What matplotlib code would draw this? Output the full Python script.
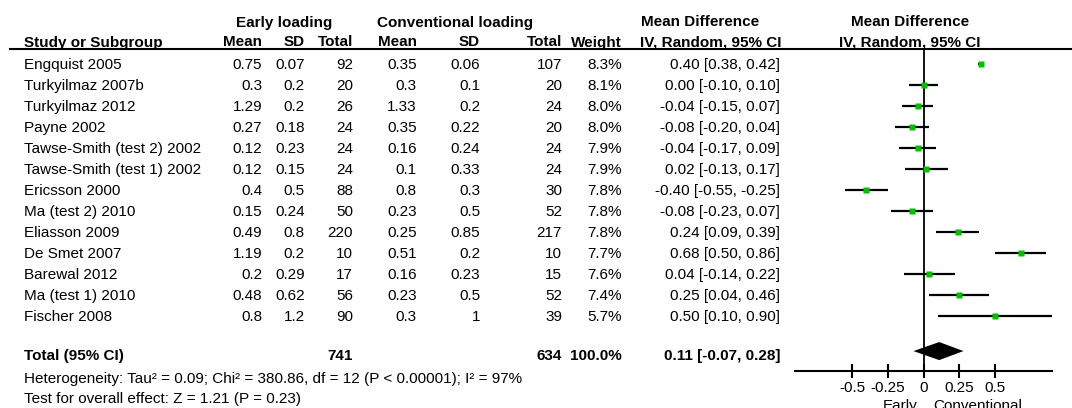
import numpy as np
import matplotlib
matplotlib.use('Agg')
import matplotlib.pyplot as plt

plt.rcParams['font.family'] = ['Liberation Sans', 'DejaVu Sans']
plt.rcParams['font.size'] = 11

# study data
studies = ['Engquist 2005', 'Turkyilmaz 2007b', 'Turkyilmaz 2012', 'Payne 2002',
           'Tawse-Smith (test 2) 2002', 'Tawse-Smith (test 1) 2002', 'Ericsson 2000',
           'Ma (test 2) 2010', 'Eliasson 2009', 'De Smet 2007', 'Barewal 2012',
           'Ma (test 1) 2010', 'Fischer 2008']
early_mean = [0.75, 0.3, 1.29, 0.27, 0.12, 0.12, 0.4, 0.15, 0.49, 1.19, 0.2, 0.48, 0.8]
early_sd = [0.07, 0.2, 0.2, 0.18, 0.23, 0.15, 0.5, 0.24, 0.8, 0.2, 0.29, 0.62, 1.2]
early_n = [92, 20, 26, 24, 24, 24, 88, 50, 220, 10, 17, 56, 90]
conv_mean = [0.35, 0.3, 1.33, 0.35, 0.16, 0.1, 0.8, 0.23, 0.25, 0.51, 0.16, 0.23, 0.3]
conv_sd = [0.06, 0.1, 0.2, 0.22, 0.24, 0.33, 0.3, 0.5, 0.85, 0.2, 0.23, 0.5, 1]
conv_n = [107, 20, 24, 20, 24, 24, 30, 52, 217, 10, 15, 52, 39]
weight = [8.3, 8.1, 8.0, 8.0, 7.9, 7.9, 7.8, 7.8, 7.8, 7.7, 7.6, 7.4, 5.7]
md = [0.40, 0.00, -0.04, -0.08, -0.04, 0.02, -0.40, -0.08, 0.24, 0.68, 0.04, 0.25, 0.50]
ci_lo = [0.38, -0.10, -0.15, -0.20, -0.17, -0.13, -0.55, -0.23, 0.09, 0.50, -0.14, 0.04, 0.10]
ci_hi = [0.42, 0.10, 0.07, 0.04, 0.09, 0.17, -0.25, 0.07, 0.39, 0.86, 0.22, 0.46, 0.90]

total_early = 741
total_conv = 634
total_md, total_lo, total_hi = 0.11, -0.07, 0.28
heterogeneity = 'Heterogeneity: Tau² = 0.09; Chi² = 380.86, df = 12 (P < 0.00001); I² = 97%'
overall = 'Test for overall effect: Z = 1.21 (P = 0.23)'
ticks = [-0.5, -0.25, 0, 0.25, 0.5]
tick_labels = ['-0.5', '-0.25', '0', '0.25', '0.5']

W, H = 1072, 408
fig = plt.figure(figsize=(W / 100, H / 100), dpi=100)

# table area in pixel coordinates
ax0 = fig.add_axes([0, 0, 1, 1])
ax0.set_xlim(0, W)
ax0.set_ylim(H, 0)
ax0.axis('off')

def row_base(i):
    return 64 + 21 * i + 5

# headers
ax0.text(284, 26.5, 'Early loading', ha='center', weight='bold')
ax0.text(455, 26.5, 'Conventional loading', ha='center', weight='bold')
ax0.text(700, 26.5, 'Mean Difference', ha='center', weight='bold')
ax0.text(910, 26.5, 'Mean Difference', ha='center', weight='bold')
hdr = [(24, 'Study or Subgroup', 'left'), (262, 'Mean', 'right'), (305, 'SD', 'right'),
       (353, 'Total', 'right'), (417, 'Mean', 'right'), (480, 'SD', 'right'),
       (562, 'Total', 'right'), (622, 'Weight', 'right'),
       (711, 'IV, Random, 95% CI', 'center'), (910, 'IV, Random, 95% CI', 'center')]
for x, s, ha in hdr:
    ax0.text(x, 46.5, s, ha=ha, weight='bold')
ax0.plot([10, W], [49, 49], color='black', lw=1.5)

# study rows
for i, name in enumerate(studies):
    y = row_base(i)
    ax0.text(24, y, name)
    ax0.text(262, y, f'{early_mean[i]:g}', ha='right')
    ax0.text(305, y, f'{early_sd[i]:g}', ha='right')
    ax0.text(353, y, f'{early_n[i]}', ha='right')
    ax0.text(417, y, f'{conv_mean[i]:g}', ha='right')
    ax0.text(480, y, f'{conv_sd[i]:g}', ha='right')
    ax0.text(562, y, f'{conv_n[i]}', ha='right')
    ax0.text(622, y, f'{weight[i]:.1f}%', ha='right')
    ax0.text(780, y, f'{md[i]:.2f} [{ci_lo[i]:.2f}, {ci_hi[i]:.2f}]', ha='right')

# totals
ax0.text(24, 360, 'Total (95% CI)', weight='bold')
ax0.text(353, 360, f'{total_early}', ha='right', weight='bold')
ax0.text(562, 360, f'{total_conv}', ha='right', weight='bold')
ax0.text(622, 360, f'{sum(weight):.1f}%', ha='right', weight='bold')
ax0.text(780, 360, f'{total_md:.2f} [{total_lo:.2f}, {total_hi:.2f}]', ha='right', weight='bold')
ax0.text(24, 382.5, heterogeneity)
ax0.text(24, 403, overall)

# forest plot
ax = fig.add_axes([795 / W, 1 - 371 / H, (1052 - 795) / W, (371 - 49) / H])
ax.set_xlim(-0.9, 0.9)
ax.set_ylim((371 - 64) / 21, (49 - 64) / 21)
for s in ['top', 'left', 'right']:
    ax.spines[s].set_visible(False)
ax.spines['bottom'].set_linewidth(1.5)
ax.patch.set_alpha(0)
ax.set_yticks([])
ax.set_xticks(ticks)
ax.set_xticklabels(tick_labels)
ax.tick_params(axis='x', direction='inout', length=10, width=1.5, pad=2, labelsize=11)
ax.axvline(0, color='black', lw=1.3)

rows = np.arange(len(studies))
ax.hlines(rows, ci_lo, ci_hi, color='black', lw=1.6)
for i in rows:
    ax.plot(md[i], i, 's', color='#00c000', mec='none',
            ms=4.6 * np.sqrt(weight[i] / 8.3))

yd = 13.67
ax.fill([total_lo, total_md, total_hi, total_md], [yd, yd - 0.43, yd, yd + 0.43],
        color='black', lw=0)

ax0.text(917, 410, 'Early', ha='right')
ax0.text(933, 410, 'Conventional', ha='left')

fig.savefig('out.png', dpi=100)
